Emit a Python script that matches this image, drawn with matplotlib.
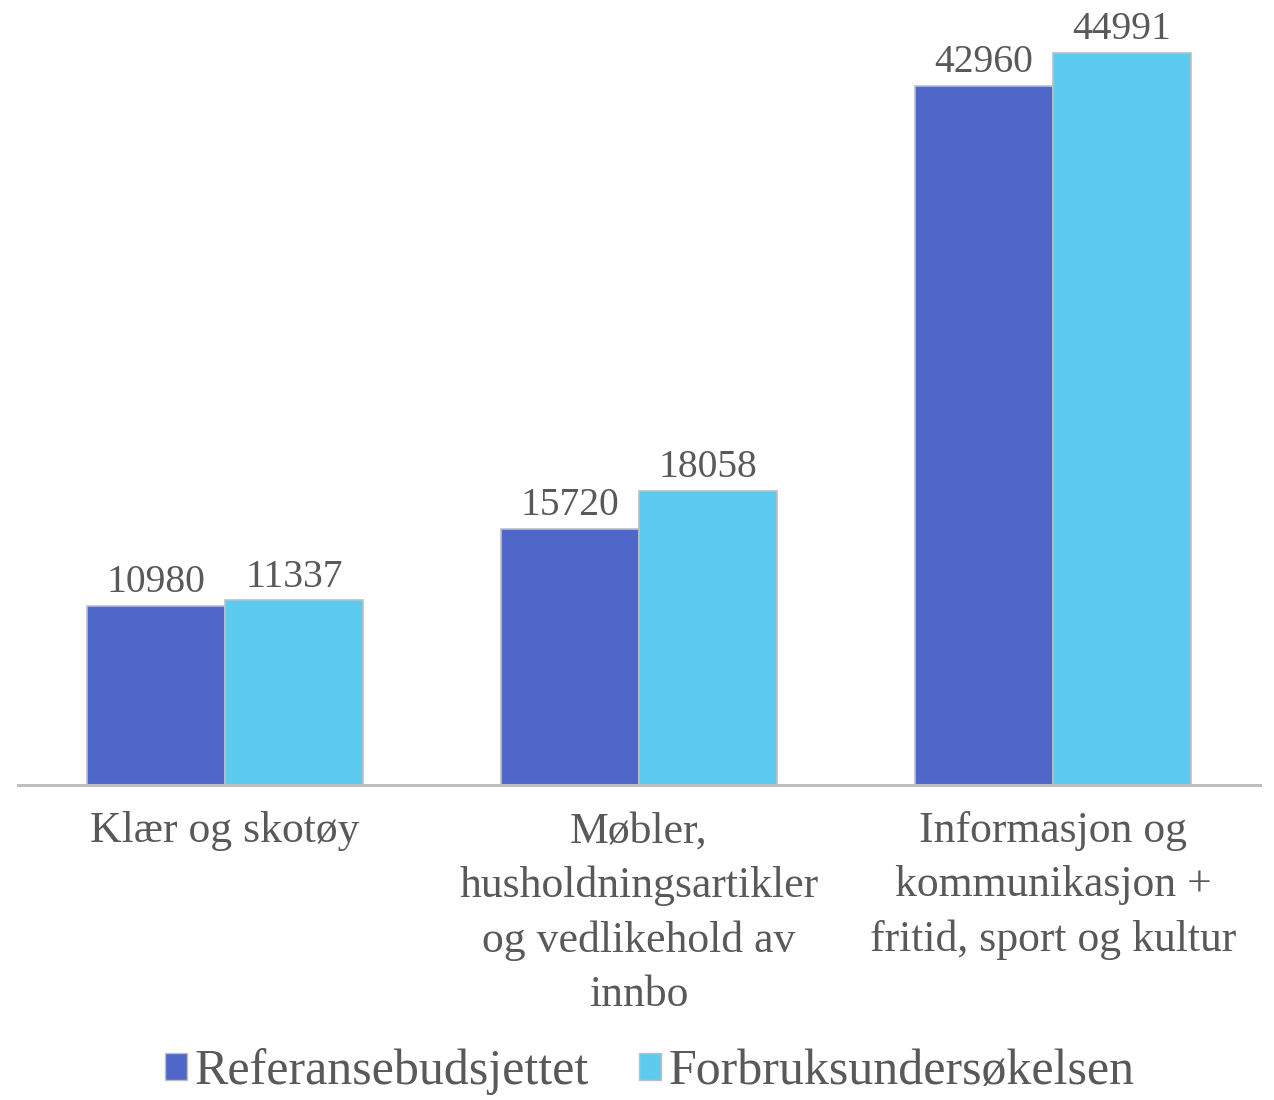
import numpy as np
import matplotlib
matplotlib.use("Agg")
import matplotlib.pyplot as plt
from matplotlib.patches import Patch

categories = [
    "Klær og skotøy",
    "Møbler,\nhusholdningsartikler\nog vedlikehold av\ninnbo",
    "Informasjon og\nkommunikasjon +\nfritid, sport og kultur",
]
series_names = ["Referansebudsjettet", "Forbruksundersøkelsen"]
referanse = [10980, 15720, 42960]
forbruk = [11337, 18058, 44991]

COLORS = ["#4E67C8", "#5DCAF0"]
TEXT = "#595959"

plt.rcParams["font.family"] = ["Liberation Serif", "DejaVu Serif"]

fig = plt.figure(figsize=(12.74, 11), dpi=100)
ax = fig.add_axes([18 / 1274, 315 / 1100, 1242 / 1274, 765 / 1100])

x = np.arange(len(categories))
w = 1 / 3
for i, (vals, col) in enumerate(zip([referanse, forbruk], COLORS)):
    pos = x + (i - 0.5) * w
    bars = ax.bar(pos, vals, width=w, color=col, edgecolor="#BFBFBF", linewidth=1.2,
                  label=series_names[i])
    for b, v in zip(bars, vals):
        ax.text(b.get_x() + b.get_width() / 2, v + 300, str(v), ha="center", va="bottom",
                fontsize=28.5, color=TEXT)

ax.set_xlim(-0.5, 2.5)
ax.set_ylim(0, 47000)
ax.set_yticks([])
ax.set_xticks(x)
ax.set_xticklabels(categories, fontsize=31.5, color=TEXT, linespacing=1.45, va="top")
ax.tick_params(axis="x", length=0, pad=19)
for s in ["top", "right", "left"]:
    ax.spines[s].set_visible(False)
ax.spines["bottom"].set_color("#BFBFBF")
ax.spines["bottom"].set_linewidth(2.2)

handles = [Patch(facecolor=c, edgecolor="#BFBFBF") for c in COLORS]
fig.legend(handles, series_names, loc="center", bbox_to_anchor=(0.51, 1 - 1072 / 1100),
           ncol=2, frameon=False, fontsize=36, labelcolor=TEXT,
           handlelength=0.45, handleheight=0.45, handletextpad=0.15, columnspacing=1.0)

fig.savefig("out.png", dpi=100)
